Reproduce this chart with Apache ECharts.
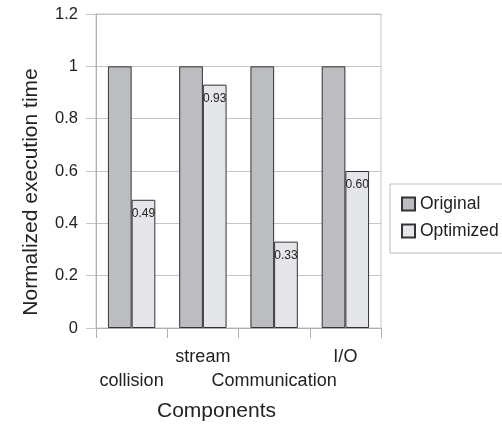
<!DOCTYPE html>
<html>
<head>
<meta charset="utf-8">
<script src="https://cdn.jsdelivr.net/npm/echarts@6/dist/echarts.min.js"></script>
<style>
  html, body { margin: 0; padding: 0; background: #fff; }
  #chart { width: 502px; height: 428px; }
</style>
</head>
<body>
<div id="chart"></div>
<script>
// Normalized execution time per component
const categories = ['collision', 'stream', 'Communication', 'I/O'];
const originalValues = [1, 1, 1, 1];
const optimizedValues = [0.49, 0.93, 0.33, 0.60];
const yTicks = { min: 0, max: 1.2, interval: 0.2 };

const font = 'Liberation Sans, Arial, sans-serif';
const chart = echarts.init(document.getElementById('chart'));

chart.setOption({
  backgroundColor: '#ffffff',
  animation: false,
  textStyle: { fontFamily: font },
  grid: {
    left: 96, right: 121, top: 14, bottom: 100,
    show: true, borderColor: '#c4c4c4', borderWidth: 1
  },
  legend: {
    orient: 'vertical',
    left: 390, top: 184,
    padding: [11, 20, 13, 11],
    borderColor: '#bdbdbd', borderWidth: 1,
    icon: 'rect',
    itemWidth: 13, itemHeight: 13, itemGap: 9,
    textStyle: { fontSize: 17.5, color: '#222', fontFamily: font },
    data: ['Original', 'Optimized']
  },
  xAxis: {
    type: 'category',
    data: categories,
    name: 'Components',
    nameLocation: 'middle',
    nameGap: 73,
    nameTextStyle: { fontSize: 21, color: '#222', padding: [0, 44, 0, 0] },
    axisLine: { lineStyle: { color: '#b0b0b0' } },
    axisTick: { show: true, length: 10, lineStyle: { color: '#b0b0b0' } },
    axisLabel: {
      interval: 0,
      margin: 17,
      fontSize: 18,
      color: '#222',
      lineHeight: 24,
      formatter: (v, i) => (i % 2 === 0 ? '\n' + v : v + '\n')
    }
  },
  yAxis: {
    type: 'value',
    min: yTicks.min, max: yTicks.max, interval: yTicks.interval,
    name: 'Normalized execution time',
    nameLocation: 'middle',
    nameGap: 54,
    nameTextStyle: { fontSize: 21, color: '#222', padding: [0, 42, 0, 0] },
    axisLine: { show: true, lineStyle: { color: '#b0b0b0' } },
    axisTick: { show: true, length: 10, lineStyle: { color: '#c4c4c4' } },
    axisLabel: {
      margin: 18, fontSize: 16.5, color: '#222',
      formatter: v => (Math.abs(v - 1) < 1e-9 ? '1' : (v === 0 ? '0' : String(+v.toFixed(1))))
    },
    splitLine: { show: true, lineStyle: { color: '#c4c4c4' } }
  },
  series: [
    {
      name: 'Original',
      type: 'bar',
      data: originalValues,
      barGap: '0%',
      barCategoryGap: '33.5%',
      itemStyle: { color: '#bcbdc1', borderColor: '#333', borderWidth: 1 }
    },
    {
      name: 'Optimized',
      type: 'bar',
      data: optimizedValues,
      itemStyle: { color: '#e5e6e9', borderColor: '#333', borderWidth: 1 },
      label: {
        show: true,
        position: 'insideTop',
        distance: 8,
        fontSize: 12,
        color: '#222',
        formatter: p => p.value.toFixed(2)
      }
    }
  ]
});
</script>
</body>
</html>
